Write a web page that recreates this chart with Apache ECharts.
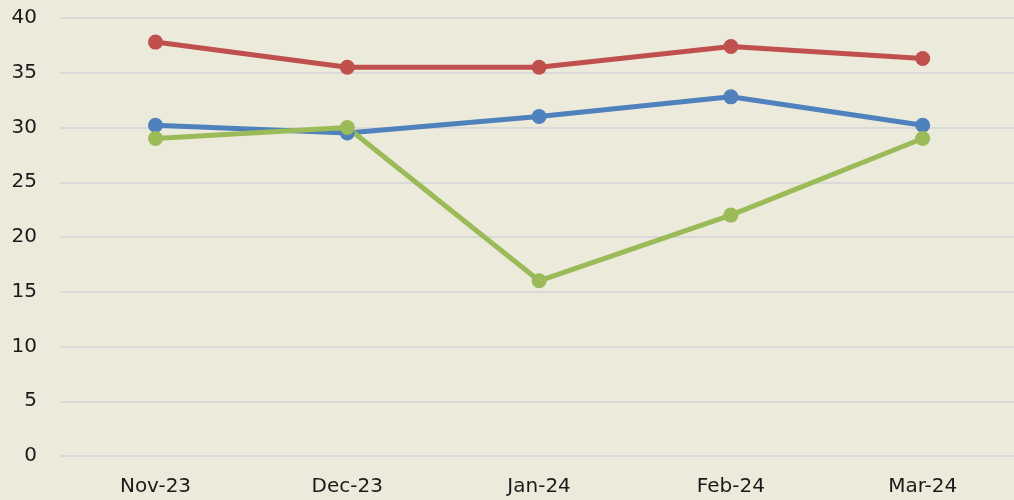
<!DOCTYPE html>
<html><head><meta charset="utf-8">
<script src="https://cdn.jsdelivr.net/npm/echarts@6/dist/echarts.min.js"></script>
<style>html,body{margin:0;padding:0;background:#ECEADA;}#c{width:1014px;height:500px;}</style>
</head><body><div id="c"></div>
<script>
const categories = ['Nov-23','Dec-23','Jan-24','Feb-24','Mar-24'];
const blueValues = [30.2, 29.5, 31.0, 32.8, 30.2];
const redValues = [37.8, 35.5, 35.5, 37.4, 36.3];
const greenValues = [29.0, 30.0, 16.0, 22.0, 29.0];

const chart = echarts.init(document.getElementById('c'));
const font = '"DejaVu Sans", sans-serif';
function s(name, data, color){
  return {name, type:'line', data, symbol:'circle', symbolSize:15, xAxisIndex:1, yAxisIndex:1,
    lineStyle:{color, width:5}, itemStyle:{color}, emphasis:{disabled:true}};
}
chart.setOption({
  backgroundColor:'#ECEADA',
  animation:false,
  grid:[
    {left:60, top:18, right:0, bottom:44, containLabel:false},
    {left:155.5, top:18, right:91.3, bottom:44, containLabel:false}
  ],
  xAxis:[
    {type:'value', gridIndex:0, show:false, min:0, max:1},
    {type:'category', gridIndex:1, data:categories, boundaryGap:false,
      axisLine:{show:false}, axisTick:{show:false}, splitLine:{show:false},
      axisLabel:{color:'#1a1a1a', fontSize:20, fontFamily:font, margin:21}}
  ],
  yAxis:[
    {type:'value', gridIndex:0, min:0, max:40, interval:5,
      axisLine:{show:false}, axisTick:{show:false},
      splitLine:{lineStyle:{color:'#D9D9D9', width:2}},
      axisLabel:{color:'#1a1a1a', fontSize:20, fontFamily:font, margin:23}},
    {type:'value', gridIndex:1, min:0, max:40, interval:5, show:false, splitLine:{show:false}}
  ],
  series:[s('Blue', blueValues, '#4F81BD'), s('Red', redValues, '#C0504D'), s('Green', greenValues, '#9BBB59')]
});
</script></body></html>
